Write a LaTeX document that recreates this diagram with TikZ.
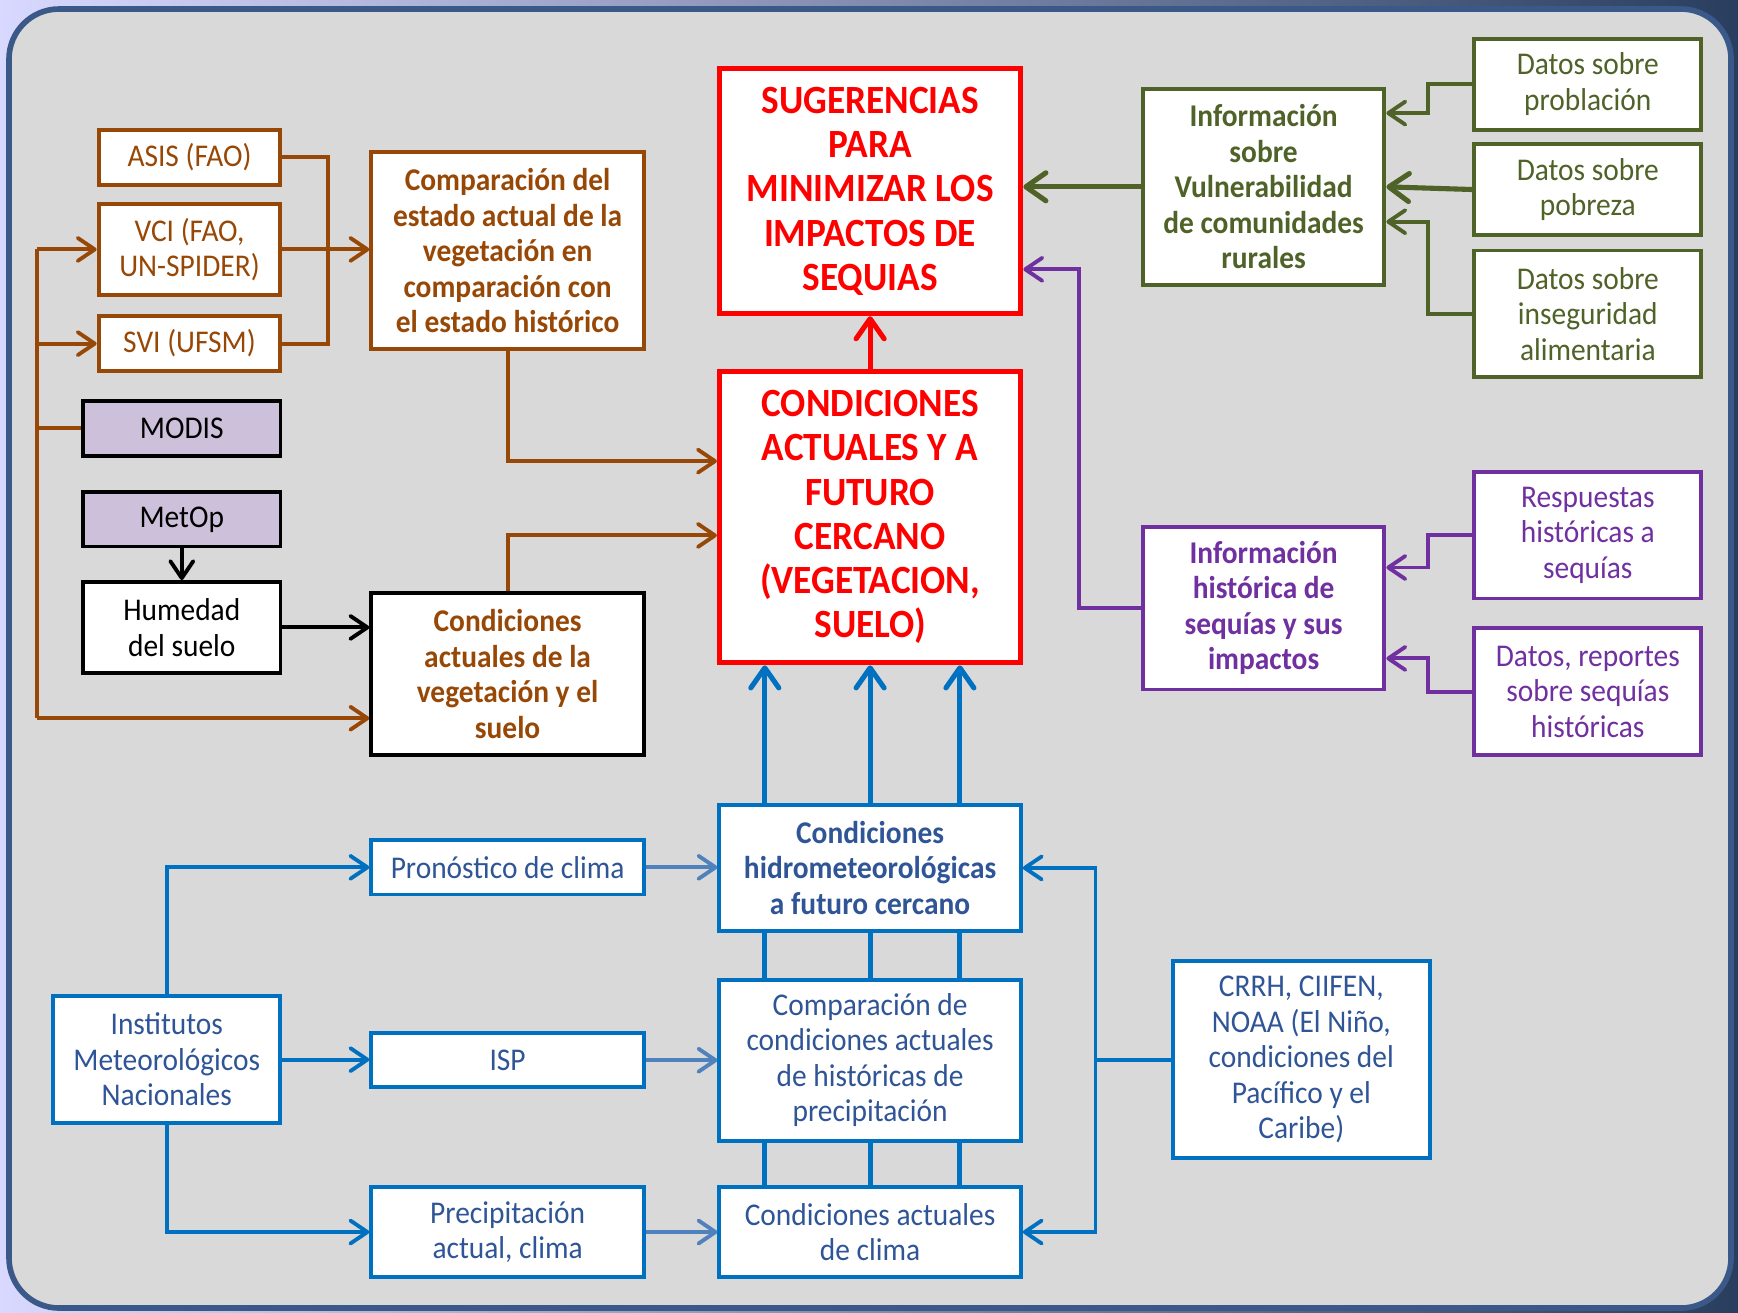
\documentclass[tikz,border=0pt]{standalone}
\usepackage{fontspec}
\setmainfont{Carlito}[FakeStretch=0.93]
\usepackage{tikz}
\usetikzlibrary{positioning, arrows.meta, backgrounds, calc}
\definecolor{brn}{RGB}{152,72,6}
\definecolor{redc}{RGB}{255,0,0}
\definecolor{grn}{RGB}{79,98,40}
\definecolor{pur}{RGB}{112,48,160}
\definecolor{bluc}{RGB}{0,112,192}
\definecolor{blutxt}{RGB}{47,85,151}
\definecolor{blult}{RGB}{79,129,189}
\definecolor{lav}{RGB}{204,192,218}
\definecolor{panel}{RGB}{217,217,217}
\definecolor{rim}{RGB}{59,89,136}
\newcommand{\txt}{\fontsize{9}{10.1}\selectfont}
\newcommand{\bigtxt}{\fontsize{11.4}{12.6}\selectfont\bfseries}

\begin{document}
\begin{tikzpicture}[
  >={Straight Barb[length=1.7mm, width=2.3mm, round]},
  box/.style={draw, fill=white, line width=1.1pt, align=center, inner sep=1pt, font=\txt},
  brnbox/.style={box, draw=brn, text=brn, minimum width=1.818cm},
  brnbold/.style={brnbox, font=\txt\bfseries, minimum width=2.727cm},
  satbox/.style={box, draw=black, fill=lav, minimum width=1.973cm, minimum height=0.543cm},
  blkbox/.style={box, draw=black, minimum width=1.973cm},
  redbox/.style={box, draw=redc, text=redc, line width=1.4pt, font=\bigtxt, minimum width=3.015cm},
  grnbox/.style={box, draw=grn, text=grn, minimum width=2.272cm},
  purbox/.style={box, draw=pur, text=pur, minimum width=2.272cm},
  blubox/.style={box, draw=bluc, text=blutxt},
  brn/.style={draw=brn, line width=1.1pt},
  brnar/.style={brn, ->},
  blkar/.style={draw=black, line width=1.1pt, ->},
  grnar/.style={draw=grn, line width=1.1pt, ->},
  purar/.style={draw=pur, line width=1.1pt, ->},
  blu/.style={draw=bluc, line width=1.1pt},
  bluar/.style={blu, ->},
  ltbar/.style={draw=blult, line width=1.1pt, ->},
  fat/.style={line width=1.45pt, -{Straight Barb[length=2mm, width=2.8mm, round]}}]
\useasboundingbox (0,0) rectangle (17.38,-13.12);
\begin{scope}[on background layer]
\shade[left color=blue!15!white, right color=rim!70!black] (0,0) rectangle (17.38,-13.12);
\draw[rim, fill=panel, line width=1.6pt, rounded corners=0.5cm] (0.09,-0.09) rectangle (17.31,-13.08);
\end{scope}

% left column, vegetation
\node[brnbox, minimum height=0.554cm] (asis) at (1.895,-1.574) {ASIS (FAO)};
\node[brnbox, minimum height=0.909cm] (vci) at (1.895,-2.494) {VCI (FAO,\\UN-SPIDER)};
\node[brnbox, minimum height=0.554cm] (svi) at (1.895,-3.436) {SVI (UFSM)};
\node[satbox] (modis) at (1.818,-4.284) {MODIS};
\node[satbox] (metop) at (1.818,-5.193) {MetOp};
\node[blkbox, minimum height=0.909cm] (humedad) at (1.818,-6.274) {Humedad\\del suelo};
\node[brnbold, minimum height=1.973cm] (compest) at (5.076,-2.505)
  {Comparación del\\estado actual de la\\vegetación en\\comparación con\\el estado histórico};
\node[brnbold, draw=black, minimum height=1.618cm] (condveg) at (5.076,-6.739)
  {Condiciones\\actuales de la\\vegetación y el\\suelo};

% centre
\node[redbox, minimum height=2.45cm] (sug) at (8.701,-1.912)
  {SUGERENCIAS\\PARA\\MINIMIZAR LOS\\IMPACTOS DE\\SEQUIAS};
\node[redbox, minimum height=2.915cm] (cond) at (8.701,-5.171)
  {CONDICIONES\\ACTUALES Y A\\FUTURO\\CERCANO\\(VEGETACION,\\SUELO)};

% right, vulnerability and history
\node[grnbox, font=\txt\bfseries, minimum width=2.416cm, minimum height=1.962cm] (infovul) at (12.636,-1.868)
  {Información\\sobre\\Vulnerabilidad\\de comunidades\\rurales};
\node[grnbox, minimum height=0.909cm] (datpobl) at (15.878,-0.842) {Datos sobre\\problación};
\node[grnbox, minimum height=0.909cm] (datpobr) at (15.878,-1.895) {Datos sobre\\pobreza};
\node[grnbox, minimum height=1.264cm] (datins) at (15.878,-3.137) {Datos sobre\\inseguridad\\alimentaria};
\node[purbox, font=\txt\bfseries, minimum width=2.416cm, minimum height=1.629cm] (infohist) at (12.636,-6.08)
  {Información\\histórica de\\sequías y sus\\impactos};
\node[purbox, minimum height=1.264cm] (resp) at (15.878,-5.353) {Respuestas\\históricas a\\sequías};
\node[purbox, minimum height=1.264cm] (datrep) at (15.878,-6.916) {Datos, reportes\\sobre sequías\\históricas};

% bottom, climate
\node[blubox, minimum width=2.272cm, minimum height=1.264cm] (inst) at (1.668,-10.596)
  {Institutos\\Meteorológicos\\Nacionales};
\node[blubox, minimum width=2.727cm, minimum height=0.543cm] (pron) at (5.076,-8.673) {Pronóstico de clima};
\node[blubox, minimum width=2.727cm, minimum height=0.543cm] (isp) at (5.076,-10.602) {ISP};
\node[blubox, minimum width=2.727cm, minimum height=0.898cm] (prec) at (5.076,-12.32) {Precipitación\\actual, clima};
\node[blubox, font=\txt\bfseries, minimum width=3.015cm, minimum height=1.264cm] (hidro) at (8.701,-8.679)
  {Condiciones\\hidrometeorológicas\\a futuro cercano};
\node[blubox, minimum width=3.015cm, minimum height=1.607cm] (compcond) at (8.701,-10.602)
  {Comparación de\\condiciones actuales\\de históricas de\\precipitación};
\node[blubox, minimum width=3.015cm, minimum height=0.898cm] (clima) at (8.701,-12.32)
  {Condiciones actuales\\de clima};
\node[blubox, minimum width=2.571cm, minimum height=1.973cm] (crrh) at (13.013,-10.596)
  {CRRH, CIIFEN,\\NOAA (El Niño,\\condiciones del\\Pacífico y el\\Caribe)};

% brown links
\coordinate (bustop) at (0.366,-2.494);
\coordinate (busbot) at (0.366,-7.182);
\draw[brn] (asis.east) -- ++(0.455,0) |- (svi.east);
\draw[brnar] (vci.east) -- (compest.west |- vci.east);
\draw[brn] (bustop) -- (busbot);
\draw[brnar] (bustop) -- (vci.west);
\draw[brnar] (bustop |- svi) -- (svi.west);
\draw[brn] (modis.west) -- (bustop |- modis);
\draw[brnar] (busbot) -- (busbot -| condveg.west);
\draw[brnar] (compest.south) |- ([yshift=0.56cm]cond.west);
\draw[brnar] (condveg.north) |- ([yshift=-0.183cm]cond.west);
\draw[blkar] (metop) -- (humedad);
\draw[blkar] (humedad.east) -- (condveg.west |- humedad.east);
\draw[draw=redc, fat] (cond) -- (sug);

% green and purple links
\draw[grnar, fat] (infovul.west) -- (sug.east |- infovul.west);
\draw[grnar] (datpobl.west) -- ++(-0.444,0) |- ([yshift=0.737cm]infovul.east);
\draw[grnar, fat] (datpobr.west) -- (infovul.east);
\draw[grnar] (datins.west) -- ++(-0.444,0) |- ([yshift=-0.349cm]infovul.east);
\draw[purar] (infohist.west) -- ++(-0.621,0) |- ([yshift=-0.781cm]sug.east);
\draw[purar] (resp.west) -- ++(-0.444,0) |- ([yshift=0.405cm]infohist.east);
\draw[purar] (datrep.west) -- ++(-0.444,0) |- ([yshift=-0.504cm]infohist.east);

% blue links
\draw[bluar] (inst.north) |- (pron.west);
\draw[bluar] (inst.east) -- (isp.west |- inst.east);
\draw[bluar] (inst.south) |- (prec.west);
\draw[ltbar] (pron.east) -- (hidro.west |- pron.east);
\draw[ltbar] (isp.east) -- (compcond.west |- isp.east);
\draw[ltbar] (prec.east) -- (clima.west);
\draw[blu] (crrh.west) -- ++(-0.754,0) coordinate (cj);
\draw[bluar] (cj) |- (hidro.east);
\draw[bluar] (cj) |- (clima.east);
\begin{scope}[on background layer]
\foreach \dx in {-1.053, 0, 0.898}
  \draw[bluar, fat] ([xshift=\dx cm]clima.north) -- ([xshift=\dx cm]cond.south);
\end{scope}
\end{tikzpicture}
\end{document}
